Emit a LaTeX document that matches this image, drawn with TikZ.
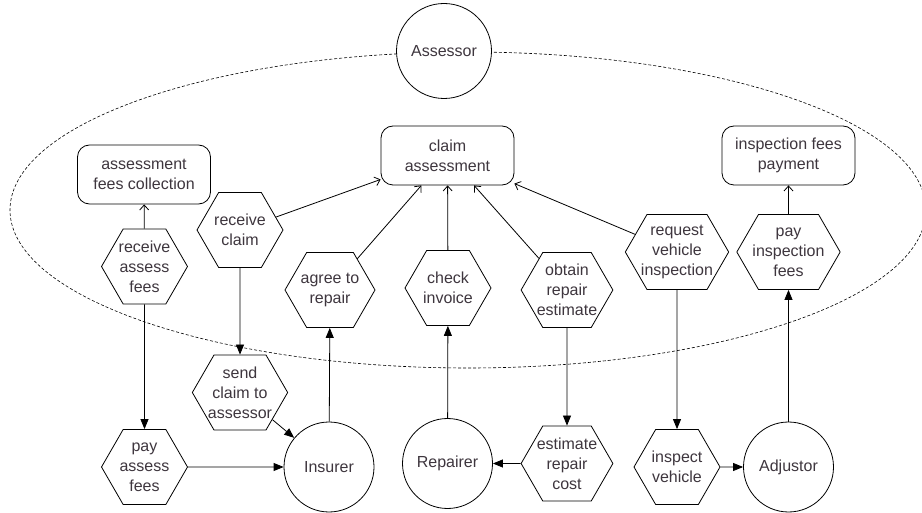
\documentclass[tikz,border=0pt]{standalone}
\usepackage{fontspec}
\setmainfont{Liberation Sans}
\usepackage{tikz}
\usetikzlibrary{
    arrows.meta,
    shapes.symbols,
    positioning
}
\definecolor{txtgray}{RGB}{62,54,62}

\begin{document}
\begin{tikzpicture}[x=1pt, y=-1pt, line width=0.8pt,
    every node/.style={font=\fontsize{16}{20}\selectfont, text=txtgray, align=center},
    actor/.style={circle, draw, fill=white, minimum size=90pt, inner sep=0pt},
    goalbox/.style={rectangle, draw, fill=white, rounded corners=12pt, minimum width=133pt, minimum height=59pt, inner sep=2pt},
    taskbox/.style={signal, signal to=east and west, signal pointer angle=120, draw, fill=white,
        minimum width=86pt, minimum height=75pt, inner xsep=-6pt, inner ysep=0pt},
    depends/.style={-{Triangle[length=10pt,width=8pt]}},
    decomp/.style={-{Straight Barb[length=5pt,width=9pt]}}]
    \useasboundingbox (0,0) rectangle (922,513);

    \draw[line width=0.6pt, dash pattern=on 3pt off 2pt] (468,210) ellipse [x radius=458, y radius=158];

    \node[actor, minimum size=95pt] (assessor) at (444,51) {Assessor};

    \node[goalbox] (collect) at (144,174.5) {assessment\\fees collection};
    \node[goalbox] (claimA) at (447.5,155.5) {claim\\assessment};
    \node[goalbox] (inspPay) at (788.5,155.5) {inspection fees\\payment};

    \node[taskbox] (recvFees) at (144.5,266.5) {receive\\assess\\fees};
    \node[taskbox] (recvClaim) at (240,230) {receive\\claim};
    \node[taskbox] (agree) at (330,290) {agree to\\repair};
    \node[taskbox] (check) at (448,288) {check\\invoice};
    \node[taskbox] (obtain) at (567,290) {obtain\\repair\\estimate};
    \node[taskbox] (request) at (677,252) {request\\vehicle\\inspection};
    \node[taskbox] (payInsp) at (788.5,252) {pay\\inspection\\fees};

    \node[taskbox] (sendClaim) at (240,392.5) {send\\claim to\\assessor};
    \node[taskbox] (payFees) at (144.5,467) {pay\\assess\\fees};
    \node[taskbox] (estimate) at (567,463.5) {estimate\\repair\\cost};
    \node[taskbox] (inspect) at (677,467) {inspect\\vehicle};

    \node[actor] (insurer) at (329,467) {Insurer};
    \node[actor] (repairer) at (447.5,463.5) {Repairer};
    \node[actor] (adjustor) at (788.5,467) {Adjustor};

    \draw
    (recvFees) edge[decomp] (collect)
    (recvClaim) edge[decomp] (claimA)
    (agree) edge[decomp] (claimA)
    (check) edge[decomp] (claimA)
    (obtain) edge[decomp] (claimA)
    (request) edge[decomp] (claimA)
    (payInsp) edge[decomp] (inspPay)
    (recvFees) edge[depends] (payFees)
    (recvClaim) edge[depends] (sendClaim)
    (sendClaim) edge[depends] (insurer)
    (payFees) edge[depends] (insurer)
    (insurer) edge[depends] (agree)
    (repairer) edge[depends] (check)
    (obtain) edge[depends] (estimate)
    (estimate) edge[depends] (repairer)
    (request) edge[depends] (inspect)
    (inspect) edge[depends] (adjustor)
    (adjustor) edge[depends] (payInsp);
\end{tikzpicture}
\end{document}
